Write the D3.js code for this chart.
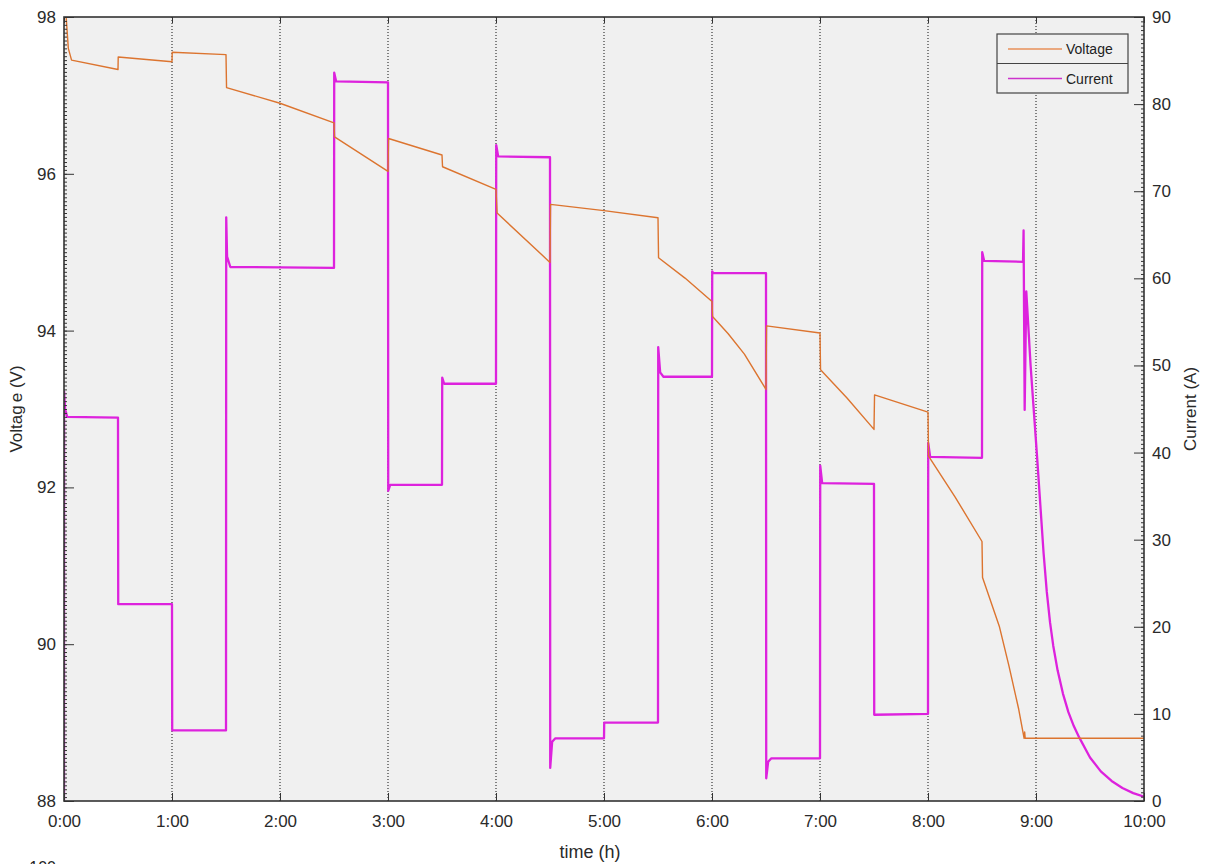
<!DOCTYPE html>
<html><head><meta charset="utf-8">
<script src="https://cdn.jsdelivr.net/npm/d3@7"></script>
<style>
html,body{margin:0;padding:0;background:#fff;}
svg{display:block;font-family:"Liberation Sans",Arial,sans-serif;}
</style></head>
<body>
<svg id="c" width="1210" height="864"></svg>
<script>
// ---- data (time in hours) ----
const voltageTime = [0, 0.02, 0.04, 0.07, 0.5, 0.502, 1.0, 1.002, 1.5, 1.505, 2.0, 2.5, 2.505, 3.0, 3.005, 3.5, 3.505, 4.0, 4.01, 4.5, 4.505, 5.0, 5.5, 5.505, 5.75, 6.0, 6.005, 6.15, 6.3, 6.5, 6.505, 7.0, 7.005, 7.25, 7.5, 7.505, 8.0, 8.005, 8.25, 8.5, 8.505, 8.66, 8.75, 8.84, 8.89, 8.895, 8.9, 10.0];
const voltage     = [98.3, 98.0, 97.6, 97.45, 97.33, 97.49, 97.43, 97.55, 97.52, 97.1, 96.9, 96.65, 96.47, 96.03, 96.45, 96.24, 96.09, 95.8, 95.5, 94.87, 95.61, 95.53, 95.44, 94.93, 94.67, 94.37, 94.18, 93.96, 93.7, 93.25, 94.06, 93.97, 93.5, 93.14, 92.74, 93.18, 92.96, 92.4, 91.88, 91.31, 90.85, 90.23, 89.72, 89.17, 88.8, 88.88, 88.8, 88.8];

const currentTime = [0, 0.001, 0.01, 0.03, 0.5, 0.502, 1.0, 1.002, 1.5, 1.502, 1.51, 1.54, 2.5, 2.502, 2.52, 3.0, 3.002, 3.02, 3.5, 3.502, 3.52, 4.0, 4.002, 4.02, 4.5, 4.502, 4.52, 4.55, 5.0, 5.002, 5.5, 5.502, 5.52, 5.55, 6.0, 6.002, 6.01, 6.5, 6.502, 6.52, 6.55, 7.0, 7.002, 7.02, 7.5, 7.502, 8.0, 8.002, 8.02, 8.5, 8.502, 8.52, 8.88, 8.885, 8.895, 8.91, 8.95, 8.99, 9.01, 9.04, 9.07, 9.1, 9.13, 9.16, 9.2, 9.25, 9.3, 9.35, 9.4, 9.5, 9.6, 9.7, 9.8, 9.9, 10.0];
const current     = [0, 47, 45, 44.1, 44.0, 22.6, 22.6, 8.1, 8.1, 67.0, 62.5, 61.3, 61.2, 83.6, 82.6, 82.5, 35.6, 36.3, 36.3, 48.6, 47.9, 47.9, 75.3, 74.0, 73.9, 3.8, 6.8, 7.2, 7.2, 9.0, 9.0, 52.1, 49.2, 48.7, 48.7, 60.8, 60.6, 60.6, 2.6, 4.5, 4.9, 4.9, 38.5, 36.5, 36.4, 9.9, 10.0, 41.1, 39.5, 39.4, 63.0, 62.0, 61.9, 65.5, 44.9, 58.5, 50.0, 43.0, 39.5, 34.0, 28.5, 24.0, 20.5, 17.8, 15.0, 12.3, 10.2, 8.6, 7.3, 5.0, 3.4, 2.3, 1.5, 0.9, 0.5];

const hourTicks = [0,1,2,3,4,5,6,7,8,9,10];
const voltTicks = [88,90,92,94,96,98];
const currTicks = [0,10,20,30,40,50,60,70,80,90];

// ---- layout ----
const svg = d3.select("#c");
const L = 64, R = 1144, T = 17, B = 801;
const x = d3.scaleLinear().domain([0,10]).range([L,R]);
const yV = d3.scaleLinear().domain([88,98]).range([B,T]);
const yI = d3.scaleLinear().domain([0,90]).range([B,T]);
const lf = "'Liberation Sans',Arial,sans-serif";

svg.append("rect").attr("x",L).attr("y",T).attr("width",R-L).attr("height",B-T).attr("fill","#f0f0f0");

svg.append("defs").append("clipPath").attr("id","clip")
  .append("rect").attr("x",L).attr("y",T).attr("width",R-L).attr("height",B-T);

// vertical dotted grid
svg.append("g").selectAll("line").data(hourTicks.slice(1,-1)).join("line")
  .attr("x1",d=>x(d)).attr("x2",d=>x(d)).attr("y1",T).attr("y2",B)
  .attr("stroke","#111").attr("stroke-width",1).attr("stroke-dasharray","1,2");

// lines
const plot = svg.append("g").attr("clip-path","url(#clip)");
const vData = voltageTime.map((t,i)=>[t,voltage[i]]);
const iData = currentTime.map((t,i)=>[t,current[i]]);
plot.append("path").datum(iData)
  .attr("d", d3.line().x(d=>x(d[0])).y(d=>yI(d[1])))
  .attr("fill","none").attr("stroke","#dd22dd").attr("stroke-width",2.3).attr("stroke-linejoin","round");
plot.append("path").datum(vData)
  .attr("d", d3.line().x(d=>x(d[0])).y(d=>yV(d[1])))
  .attr("fill","none").attr("stroke","#dc742f").attr("stroke-width",1.4).attr("stroke-linejoin","round");

// axes
const axisColor = "#333";
function styleAxis(g){
  g.select(".domain").remove();
  g.selectAll("line").attr("stroke",axisColor);
  g.selectAll("text").attr("fill","#2a2a2a").style("font-size","17px").style("font-family",lf);
}
// left
const gl = svg.append("g").attr("transform",`translate(${L},0)`)
  .call(d3.axisLeft(yV).tickValues(voltTicks).tickSize(-10).tickPadding(8).tickFormat(d3.format("d")));
styleAxis(gl);
svg.append("g").attr("transform",`translate(${L},0)`)
  .call(d3.axisLeft(yV).tickValues(d3.range(88,98.001,0.05)).tickSize(-3).tickFormat(""))
  .call(g=>{g.select(".domain").remove(); g.selectAll("line").attr("stroke",axisColor);});
// right
const gr = svg.append("g").attr("transform",`translate(${R},0)`)
  .call(d3.axisRight(yI).tickValues(currTicks).tickSize(-10).tickPadding(8));
styleAxis(gr);
svg.append("g").attr("transform",`translate(${R},0)`)
  .call(d3.axisRight(yI).tickValues(d3.range(0,90.001,0.5)).tickSize(-3).tickFormat(""))
  .call(g=>{g.select(".domain").remove(); g.selectAll("line").attr("stroke",axisColor);});
// bottom
const gb = svg.append("g").attr("transform",`translate(0,${B})`)
  .call(d3.axisBottom(x).tickValues(hourTicks).tickSize(-8).tickPadding(14).tickFormat(d=>d+":00"));
styleAxis(gb);
// top ticks
const gt = svg.append("g").attr("transform",`translate(0,${T})`)
  .call(d3.axisTop(x).tickValues(hourTicks).tickSize(-6).tickFormat(""));
styleAxis(gt);

// frame
svg.append("rect").attr("x",L).attr("y",T).attr("width",R-L).attr("height",B-T)
  .attr("fill","none").attr("stroke",axisColor).attr("stroke-width",1.6);

// axis labels
const vl = svg.append("text").attr("transform",`translate(22,${(T+B)/2}) rotate(-90)`)
  .attr("text-anchor","middle").style("font-size","17px").style("font-family",lf).attr("fill","#2a2a2a");
vl.append("tspan").text("Voltag");
vl.append("tspan").attr("dx",3).text("e (V)");
svg.append("text").attr("transform",`translate(1196,${(T+B)/2}) rotate(-90)`)
  .attr("text-anchor","middle").style("font-size","17px").style("font-family",lf).attr("fill","#2a2a2a").text("Current (A)");
svg.append("text").attr("x",590).attr("y",858).attr("text-anchor","middle")
  .style("font-size","18px").style("font-family",lf).attr("fill","#2a2a2a").text("time (h)");

// legend
const lg = svg.append("g");
lg.append("rect").attr("x",997).attr("y",34).attr("width",131).attr("height",59)
  .attr("fill","#f0f0f0").attr("stroke","#444").attr("stroke-width",1.2);
lg.append("line").attr("x1",997).attr("x2",1128).attr("y1",63.5).attr("y2",63.5).attr("stroke","#444").attr("stroke-width",1);
const legendItems = [["Voltage","#e8905a",49],["Current","#cc33cc",78.5]];
legendItems.forEach(([name,col,yy])=>{
  lg.append("line").attr("x1",1008).attr("x2",1062).attr("y1",yy).attr("y2",yy).attr("stroke",col).attr("stroke-width",1.3);
  lg.append("text").attr("x",1066).attr("y",yy+5).style("font-size","14px").style("font-family",lf).attr("fill","#222").text(name);
});

// partially visible label of a chart below (cut off in the reference too)
svg.append("text").attr("x",56).attr("y",873).attr("text-anchor","end")
  .style("font-size","16px").style("font-family",lf).attr("fill","#222").text("100");
</script>
</body></html>
